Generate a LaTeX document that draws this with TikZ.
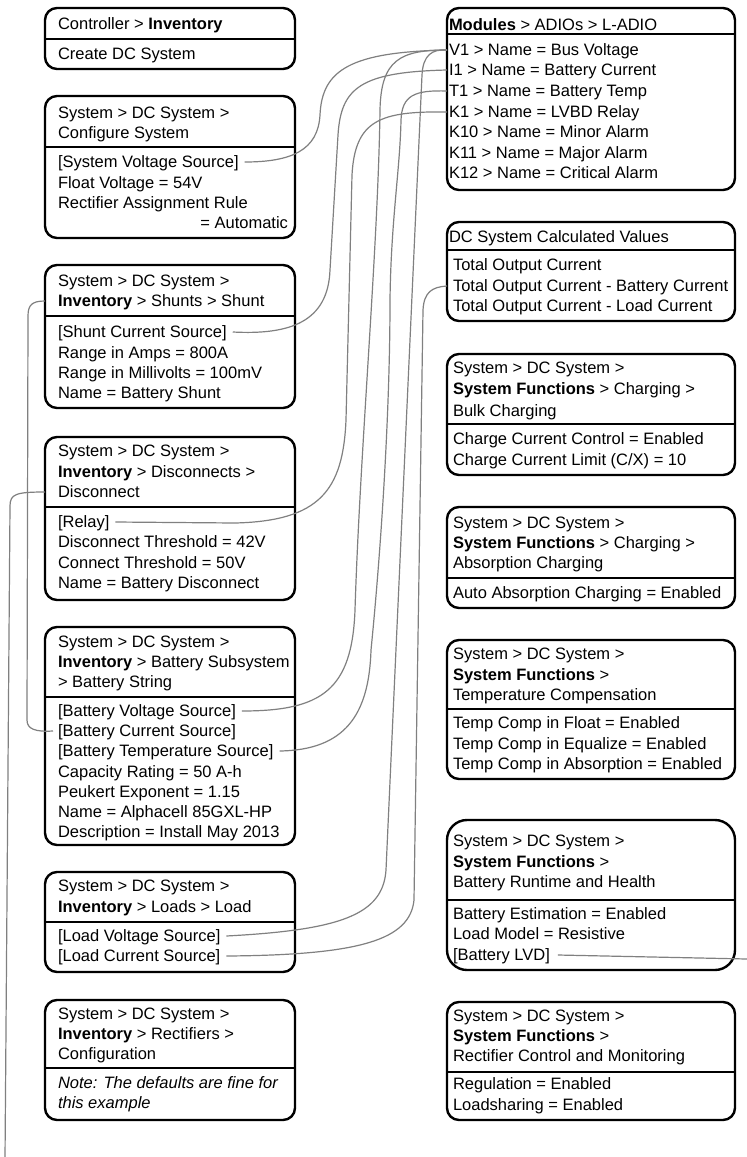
\documentclass[tikz,border=0pt]{standalone}
\usepackage{fontspec}
\setmainfont{Liberation Sans}
\definecolor{linegray}{RGB}{128,128,128}
\begin{document}
\begin{tikzpicture}[x=1pt,y=-1pt,
  box/.style={draw=black, line width=2.4pt, rounded corners=12pt, anchor=north west, inner sep=0pt, outer sep=0pt},
  txt/.style={anchor=west, inner sep=0pt, outer sep=0pt, text height=11.8pt, text depth=0pt, font=\fontsize{16.5}{20}\selectfont},
  div/.style={line width=2.1pt},
  conn/.style={draw=linegray, line width=1.2pt}
]
\fill[white] (0,0) rectangle (747,1157);
\useasboundingbox (0,0) rectangle (747,1157);

% ---------------- left column ----------------
\node[box, minimum width=250pt, minimum height=61pt] (b1) at (45,8) {};
\draw[div] (b1.west |- 0,39) -- (b1.east |- 0,39);
\node[txt] (b1h) at (58,24) {Controller > \textbf{Inventory}};
\node[txt] (b1a) at (58,54) {Create DC System};

\node[box, minimum width=250pt, minimum height=142pt] (b2) at (45,96) {};
\draw[div] (b2.west |- 0,147) -- (b2.east |- 0,147);
\node[txt] (b2h1) at (58,113) {System > DC System >};
\node[txt] (b2h2) at (58,133) {Configure System};
\node[txt] (svs) at (58,162) {[System Voltage Source]};
\node[txt] (b2b) at (58,183) {Float Voltage = 54V};
\node[txt] (b2c) at (58,203) {Rectifier Assignment Rule};
\node[txt, anchor=east] (b2d) at (288,223) {= Automatic};

\node[box, minimum width=250pt, minimum height=143pt] (b3) at (45,265) {};
\draw[div] (b3.west |- 0,316) -- (b3.east |- 0,316);
\node[txt] (b3h1) at (58,281) {System > DC System >};
\node[txt] (b3h2) at (58,301) {\textbf{Inventory} > Shunts > Shunt};
\node[txt] (scs) at (58,332) {[Shunt Current Source]};
\node[txt] (b3b) at (58,353) {Range in Amps = 800A};
\node[txt] (b3c) at (58,373) {Range in Millivolts = 100mV};
\node[txt] (b3d) at (58,393) {Name = Battery Shunt};

\node[box, minimum width=250pt, minimum height=163pt] (b4) at (45,437) {};
\draw[div] (b4.west |- 0,507) -- (b4.east |- 0,507);
\node[txt] (b4h1) at (58,451) {System > DC System >};
\node[txt] (b4h2) at (58,472) {\textbf{Inventory} > Disconnects >};
\node[txt] (b4h3) at (58,492) {Disconnect};
\node[txt] (rly) at (58,522) {[Relay]};
\node[txt] (b4b) at (58,542) {Disconnect Threshold = 42V};
\node[txt] (b4c) at (58,563) {Connect Threshold = 50V};
\node[txt] (b4d) at (58,583) {Name = Battery Disconnect};

\node[box, minimum width=250pt, minimum height=218pt] (b5) at (45,627) {};
\draw[div] (b5.west |- 0,697) -- (b5.east |- 0,697);
\node[txt] (b5h1) at (58,642) {System > DC System >};
\node[txt] (b5h2) at (58,662) {\textbf{Inventory} > Battery Subsystem};
\node[txt] (b5h3) at (58,682) {> Battery String};
\node[txt] (bvs) at (58,711) {[Battery Voltage Source]};
\node[txt] (bcs) at (58,731) {[Battery Current Source]};
\node[txt] (bts) at (58,751) {[Battery Temperature Source]};
\node[txt] (b5b) at (58,772) {Capacity Rating = 50 A-h};
\node[txt] (b5c) at (58,792) {Peukert Exponent = 1.15};
\node[txt] (b5d) at (58,812) {Name = Alphacell 85GXL-HP};
\node[txt] (b5e) at (58,832) {Description = Install May 2013};

\node[box, minimum width=250pt, minimum height=100pt] (b6) at (45,872) {};
\draw[div] (b6.west |- 0,922) -- (b6.east |- 0,922);
\node[txt] (b6h1) at (58,886) {System > DC System >};
\node[txt] (b6h2) at (58,907) {\textbf{Inventory} > Loads > Load};
\node[txt] (lvs) at (58,936) {[Load Voltage Source]};
\node[txt] (lcs) at (58,956) {[Load Current Source]};

\node[box, minimum width=250pt, minimum height=120pt] (b7) at (45,1000) {};
\draw[div] (b7.west |- 0,1068) -- (b7.east |- 0,1068);
\node[txt] (b7h1) at (58,1014) {System > DC System >};
\node[txt] (b7h2) at (58,1034) {\textbf{Inventory} > Rectifiers >};
\node[txt] (b7h3) at (58,1054) {Configuration};
\node[txt] (b7a) at (58,1083) {\itshape Note: The defaults are fine for};
\node[txt] (b7b) at (58,1103) {\itshape this example};

% ---------------- right column ----------------
\node[box, minimum width=288pt, minimum height=182pt] (r1) at (447,8) {};
\draw[div] (r1.west |- 0,34) -- (r1.east |- 0,34);
\node[txt] (r1h) at (449,25) {\textbf{Modules} > ADIOs > L-ADIO};
\node[txt] (v1) at (449,50) {V1 > Name = Bus Voltage};
\node[txt] (i1) at (449,70) {I1 > Name = Battery Current};
\node[txt] (t1) at (449,91) {T1 > Name = Battery Temp};
\node[txt] (k1) at (449,112) {K1 > Name = LVBD Relay};
\node[txt] (k10) at (449,132) {K10 > Name = Minor Alarm};
\node[txt] (k11) at (449,153) {K11 > Name = Major Alarm};
\node[txt] (k12) at (449,173) {K12 > Name = Critical Alarm};

\node[box, minimum width=288pt, minimum height=99pt] (r2) at (447,222) {};
\draw[div] (r2.west |- 0,250) -- (r2.east |- 0,250);
\node[txt] (r2h) at (449,237) {DC System Calculated Values};
\node[txt] (toc) at (453,265) {Total Output Current};
\node[txt] (tocb) at (453,286) {Total Output Current - Battery Current};
\node[txt] (tocl) at (453,306) {Total Output Current - Load Current};

\node[box, minimum width=288pt, minimum height=121pt] (r3) at (447,354) {};
\draw[div] (r3.west |- 0,424) -- (r3.east |- 0,424);
\node[txt] (r3h1) at (453,368) {System > DC System >};
\node[txt] (r3h2) at (453,389) {\textbf{System Functions} > Charging >};
\node[txt] (r3h3) at (453,411) {Bulk Charging};
\node[txt] (r3a) at (453,439) {Charge Current Control = Enabled};
\node[txt] (r3b) at (453,460) {Charge Current Limit (C/X) = 10};

\node[box, minimum width=288pt, minimum height=101pt] (r4) at (447,507) {};
\draw[div] (r4.west |- 0,578) -- (r4.east |- 0,578);
\node[txt] (r4h1) at (453,523) {System > DC System >};
\node[txt] (r4h2) at (453,543) {\textbf{System Functions} > Charging >};
\node[txt] (r4h3) at (453,563) {Absorption Charging};
\node[txt] (r4a) at (453,593) {Auto Absorption Charging = Enabled};

\node[box, minimum width=288pt, minimum height=139pt] (r5) at (447,640) {};
\draw[div] (r5.west |- 0,709) -- (r5.east |- 0,709);
\node[txt] (r5h1) at (453,654) {System > DC System >};
\node[txt] (r5h2) at (453,675) {\textbf{System Functions} >};
\node[txt] (r5h3) at (453,695) {Temperature Compensation};
\node[txt] (r5a) at (453,723) {Temp Comp in Float = Enabled};
\node[txt] (r5b) at (453,744) {Temp Comp in Equalize = Enabled};
\node[txt] (r5c) at (453,764) {Temp Comp in Absorption = Enabled};

\node[box, rounded corners=20pt, minimum width=288pt, minimum height=150pt] (r6) at (447,820) {};
\draw[div] (r6.west |- 0,900) -- (r6.east |- 0,900);
\node[txt] (r6h1) at (453,841) {System > DC System >};
\node[txt] (r6h2) at (453,862) {\textbf{System Functions} >};
\node[txt] (r6h3) at (453,882) {Battery Runtime and Health};
\node[txt] (r6a) at (453,914) {Battery Estimation = Enabled};
\node[txt] (r6b) at (453,934) {Load Model = Resistive};
\node[txt] (lvd) at (453,955) {[Battery LVD]};

\node[box, minimum width=288pt, minimum height=118pt] (r7) at (447,1002) {};
\draw[div] (r7.west |- 0,1072) -- (r7.east |- 0,1072);
\node[txt] (r7h1) at (453,1016) {System > DC System >};
\node[txt] (r7h2) at (453,1036) {\textbf{System Functions} >};
\node[txt] (r7h3) at (453,1056) {Rectifier Control and Monitoring};
\node[txt] (r7a) at (453,1084) {Regulation = Enabled};
\node[txt] (r7b) at (453,1105) {Loadsharing = Enabled};

% ---------------- connectors ----------------
\coordinate (lvdend) at (747,959);
\coordinate (discend) at (5,1160);

% System Voltage Source -> V1
\draw[conn] ([xshift=6pt]svs.east) .. controls (292,162) and (318,150) .. (320,115)
  .. controls (322,70) and (350,52) .. (v1.west -| r1.west);
% Shunt Current Source -> I1
\draw[conn] ([xshift=6pt]scs.east) .. controls (290,335) and (328,322) .. (330,270)
  -- (338,135) .. controls (341,88) and (360,72) .. (i1.west -| r1.west);
% Relay -> K1
\draw[conn] ([xshift=6pt]rly.east) -- (235,523) .. controls (320,521) and (343,490) .. (346,420)
  -- (352,175) .. controls (355,120) and (380,111) .. (k1.west -| r1.west);
% Battery Voltage Source -> V1
\draw[conn] ([xshift=6pt]bvs.east) .. controls (322,711) and (352,690) .. (355,610)
  .. controls (360,450) and (378,250) .. (380,110) .. controls (381,60) and (400,50) .. (v1.west -| r1.west);
% Battery Temperature Source -> T1
\draw[conn] ([xshift=6pt]bts.east) .. controls (345,750) and (369,715) .. (371,650)
  .. controls (380,560) and (390,420) .. (390,300) .. controls (391,220) and (400,170) .. (401,120)
  .. controls (402,95) and (415,90) .. (t1.west -| r1.west);
% Load Voltage Source -> V1
\draw[conn] ([xshift=6pt]lvs.east) .. controls (340,930) and (383,915) .. (386,870)
  -- (422,75) .. controls (423,55) and (432,49) .. (v1.west -| r1.west);
% Load Current Source -> Total Output Current - Battery Current
\draw[conn] ([xshift=6pt]lcs.east) .. controls (360,955) and (410,940) .. (414,900)
  -- (423,310) .. controls (424,292) and (432,287) .. (tocb.west -| r2.west);
% Shunt header -> Battery Current Source
\draw[conn] (b3h2.west -| b3.west) .. controls (32,301) and (28,305) .. (28,316)
  -- (27,720) .. controls (27,729) and (35,732) .. ([xshift=-5pt]bcs.west);
% Disconnect header -> off bottom
\draw[conn] (b4h3.west -| b4.west) .. controls (16,492) and (10,494) .. (10,506) -- (discend);
% Battery LVD -> off right
\draw[conn] ([xshift=8pt]lvd.east) -- (lvdend);
\end{tikzpicture}
\end{document}
